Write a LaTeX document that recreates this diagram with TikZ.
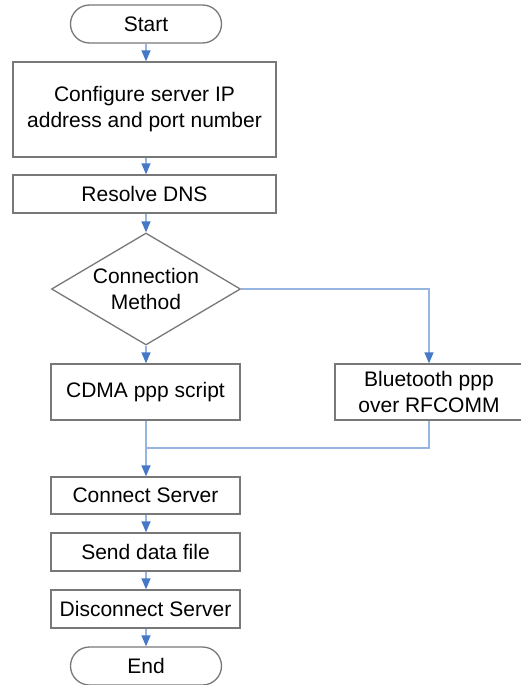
\documentclass[tikz,border=0pt]{standalone}
\usepackage{fontspec}
\setmainfont{Liberation Sans}
\usetikzlibrary{shapes.geometric,arrows.meta}
\definecolor{boxgray}{RGB}{120,120,120}
\definecolor{linkblue}{RGB}{150,182,225}
\definecolor{tipblue}{RGB}{70,120,200}
\begin{document}
\begin{tikzpicture}[x=1pt,y=-1pt,
  every node/.style={font=\fontsize{21}{26}\selectfont, align=center},
  procbox/.style={draw=boxgray, line width=1.3pt, rectangle, inner sep=0pt},
  terminal/.style={draw=boxgray, line width=1.3pt, rectangle, rounded corners=19pt,
     minimum width=151pt, minimum height=38pt, inner sep=0pt},
  decision/.style={draw=boxgray, line width=1.3pt, diamond, aspect=1.69,
     minimum width=189pt, minimum height=112pt, inner sep=0pt},
  flow/.style={draw=linkblue, line width=1.3pt, -{Triangle[width=9pt,length=11pt,color=tipblue]}},
  plain/.style={draw=linkblue, line width=1.3pt}]
\useasboundingbox (0,0) rectangle (521,685);
\fill[white] (0,0) rectangle (521,685);

\node[terminal] (start) at (146,24) {Start};
\node[procbox, minimum width=263pt, minimum height=95pt] (conf) at (144.5,109.5) {Configure server IP\\address and port number};
\node[procbox, minimum width=263pt, minimum height=38pt] (dns) at (144.5,194) {Resolve DNS};
\node[decision] (meth) at (146,289) {Connection\\Method};
\node[procbox, minimum width=189pt, minimum height=56pt] (cdma) at (145.5,392) {CDMA ppp script};
\node[procbox, minimum width=188pt, minimum height=56pt] (bt) at (429,392) {Bluetooth ppp\\over RFCOMM};
\coordinate (merge) at (146,448);
\node[procbox, minimum width=189pt, minimum height=37pt] (conn) at (145.5,495.5) {Connect Server};
\node[procbox, minimum width=189pt, minimum height=38pt] (send) at (145.5,552) {Send data file};
\node[procbox, minimum width=189pt, minimum height=38pt] (disc) at (145.5,609) {Disconnect Server};
\node[terminal] (end) at (146,666) {End};

\draw[flow] (start.south) -- (start.south |- conf.north);
\draw[flow] (start.south |- conf.south) -- (start.south |- dns.north);
\draw[flow] (start.south |- dns.south) -- (meth.north);
\draw[flow] (meth.south) -- (meth.south |- cdma.north);
\draw[flow] (meth.east) -| (bt.north);
\draw[plain] (meth.south |- cdma.south) -- (merge);
\draw[plain] (bt.south) |- (merge);
\draw[flow] (merge) -- (merge |- conn.north);
\draw[flow] (merge |- conn.south) -- (merge |- send.north);
\draw[flow] (merge |- send.south) -- (merge |- disc.north);
\draw[flow] (merge |- disc.south) -- (end.north);
\end{tikzpicture}
\end{document}
